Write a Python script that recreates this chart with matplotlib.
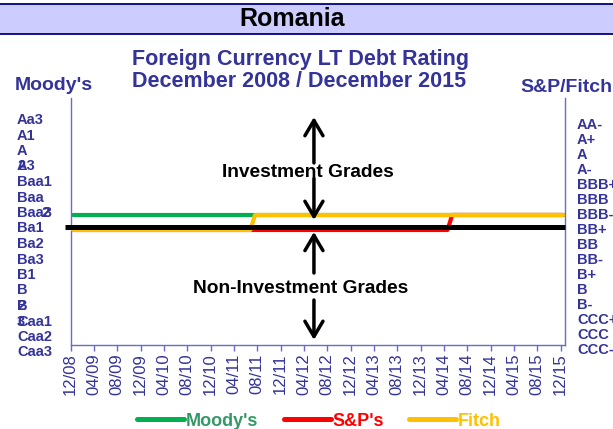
import matplotlib
matplotlib.use('Agg')
import matplotlib.pyplot as plt
from matplotlib.patches import Rectangle
from matplotlib.lines import Line2D

plt.rcParams['font.family'] = ['Liberation Sans', 'DejaVu Sans']

W, H = 613, 429
NAVY = '#333399'
AXIS = '#6A6AC8'
GREEN = '#00B050'
RED = '#FF0000'
GOLD = '#FFC000'

# ---- data ----
# rating index: 0 = Aa3 / AA-, 15 = Caa3 / CCC-
moodys_labels = ['Aa3', 'A1', 'A2', 'A3', 'Baa1', 'Baa2', 'Baa3', 'Ba1',
                 'Ba2', 'Ba3', 'B1', 'B2', 'B3', 'Caa1', 'Caa2', 'Caa3']
sp_labels = ['AA-', 'A+', 'A', 'A-', 'BBB+', 'BBB', 'BBB-', 'BB+',
             'BB', 'BB-', 'B+', 'B', 'B-', 'CCC+', 'CCC', 'CCC-']
tick_labels = ['12/08', '04/09', '08/09', '12/09', '04/10', '08/10', '12/10',
               '04/11', '08/11', '12/11', '04/12', '08/12', '12/12', '04/13',
               '08/13', '12/13', '04/14', '08/14', '12/14', '04/15', '08/15',
               '12/15']
# months since 12/2008
moodys_x = [0.4, 84.4]
moodys_y = [6, 6]
sp_x = [0.4, 64.6, 65.4, 84.4]
sp_y = [7, 7, 6, 6]
fitch_x = [0.4, 30.8, 31.6, 84.4]
fitch_y = [7, 7, 6, 6]
threshold = 6.78   # investment / non-investment border


def fx(px):
    return px / W


def fy(py):
    return 1 - py / H


fig = plt.figure(figsize=(6.13, 4.29), dpi=100, facecolor='white')

# ---- title band ----
fig.patches.append(Rectangle((0, fy(33.5)), 1, fy(4) - fy(33.5),
                             transform=fig.transFigure, facecolor='#CCCCFF',
                             edgecolor='none', zorder=0))
for yy in (4, 33.5):
    fig.add_artist(Line2D([0, 1], [fy(yy), fy(yy)], transform=fig.transFigure,
                          color='#000080', lw=1.3))
fig.text(fx(292), fy(18.5), 'Romania', fontsize=18, fontweight='bold',
         color='black', ha='center', va='center')

fig.text(fx(301), fy(60), 'Foreign Currency LT Debt Rating', fontsize=15.5,
         fontweight='bold', color=NAVY, ha='center', va='center')
fig.text(fx(299), fy(81.5), 'December 2008 / December 2015', fontsize=15.5,
         fontweight='bold', color=NAVY, ha='center', va='center')
fig.text(fx(15), fy(85), "Moody's", fontsize=14, fontweight='bold',
         color=NAVY, ha='left', va='center')
fig.text(fx(520), fy(87), 'S&P/Fitch', fontsize=14, fontweight='bold',
         color=NAVY, ha='left', va='center')

# ---- rating scales ----
for i, lab in enumerate(moodys_labels):
    y = 120 + 15.5 * i
    x = 17
    if lab in ('A2', 'Baa2', 'B2', 'B3'):
        # label wraps: last character spills onto the next row
        head, tail = lab[:-1], lab[-1]
        fig.text(fx(x), fy(y), head, fontsize=10.5, fontweight='bold',
                 color=NAVY, ha='left', va='center')
        tx = 41 if lab == 'Baa2' else x
        fig.text(fx(tx), fy(y + 15.5), tail, fontsize=10.5, fontweight='bold',
                 color=NAVY, ha='left', va='center')
    else:
        fig.text(fx(x), fy(y), lab, fontsize=10.5, fontweight='bold',
                 color=NAVY, ha='left', va='center')

for i, lab in enumerate(sp_labels):
    y = 125 + 15.0 * i
    fig.text(fx(577), fy(y), lab, fontsize=10.5, fontweight='bold',
             color=NAVY, ha='left', va='center')

# ---- plot area ----
ax = fig.add_axes([fx(70.7), fy(345), fx(565) - fx(70.7), fy(98) - fy(345)])
ax.set_xlim(0, 84.74)
ax.set_ylim(14.67, -1.8)
for s in ('left', 'right', 'bottom'):
    ax.spines[s].set_color(AXIS)
    ax.spines[s].set_linewidth(1.0)
ax.spines['top'].set_visible(False)
ax.set_yticks([])
ax.set_xticks(range(0, 85, 4))
ax.set_xticklabels(tick_labels, rotation=90, fontsize=12, color=NAVY)
ax.tick_params(axis='x', length=4, width=1, color=AXIS, pad=2)

lm, = ax.plot(moodys_x, moodys_y, color=GREEN, lw=3, solid_capstyle='round',
              solid_joinstyle='round', zorder=2, label="Moody's")
ls, = ax.plot(sp_x, sp_y, color=RED, lw=3, solid_capstyle='round',
              solid_joinstyle='round', zorder=3, label="S&P's")
lf, = ax.plot(fitch_x, fitch_y, color=GOLD, lw=3, solid_capstyle='round',
              solid_joinstyle='round', zorder=4, label='Fitch')
ax.plot([-1.0, 84.74], [threshold, threshold], color='black', lw=3.6,
        solid_capstyle='butt', clip_on=False, zorder=5)

# ---- arrows + grade labels ----
arrow = dict(arrowstyle='->,head_length=1.1,head_width=0.65', lw=2.5,
             color='black', mutation_scale=10, shrinkA=0, shrinkB=0)
ax_x = 41.7
for y0, y1 in ((2.53, -0.53), (3.55, 6.33), (9.87, 7.13), (11.67, 14.33)):
    ax.annotate('', xy=(ax_x, y1), xytext=(ax_x, y0), arrowprops=arrow,
                zorder=6)
ax.text(40.7, 3.2, 'Investment Grades', fontsize=13.8, fontweight='bold',
        color='black', ha='center', va='center', zorder=7)
ax.text(39.5, 10.93, 'Non-Investment Grades', fontsize=13.8, fontweight='bold',
        color='black', ha='center', va='center', zorder=7)

# ---- legend ----
leg = fig.legend(handles=[lm, ls, lf], loc='center', ncol=3,
                 bbox_to_anchor=(fx(319), fy(421)), frameon=False,
                 prop={'weight': 'bold', 'size': 13}, handlelength=2.6,
                 handletextpad=0.1, columnspacing=1.4, borderaxespad=0)
for t, c in zip(leg.get_texts(), ['#339966', RED, GOLD]):
    t.set_color(c)
for l in leg.get_lines():
    l.set_linewidth(3.6)
    l.set_solid_capstyle('round')

fig.savefig('out.png', dpi=100, facecolor='white')
